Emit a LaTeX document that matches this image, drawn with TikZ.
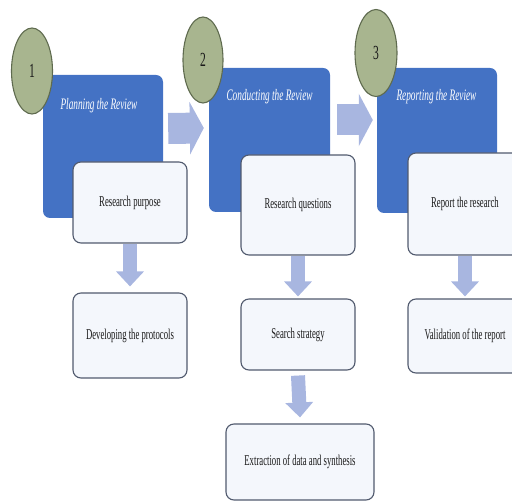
\documentclass[tikz,border=0pt]{standalone}
\usepackage{fontspec}
\setmainfont{Liberation Serif}[FakeStretch=0.58]
\usetikzlibrary{arrows.meta,shapes.geometric}
\definecolor{phaseblue}{HTML}{4472C4}
\definecolor{stepfill}{HTML}{F4F7FC}
\definecolor{stepline}{HTML}{515A6E}
\definecolor{badgefill}{HTML}{A8B58F}
\definecolor{badgeline}{HTML}{5F6B4F}
\definecolor{flowblue}{HTML}{A8B6E0}
\begin{document}
\begin{tikzpicture}[x=1pt,y=-1pt, every node/.style={font=\fontsize{15}{17}\selectfont,text=black!90},
  phase/.style={fill=phaseblue,rounded corners=7pt,inner sep=0pt},
  stepbox/.style={draw=stepline,fill=stepfill,line width=1.1pt,rounded corners=8pt,minimum width=114pt,inner sep=0pt,align=center},
  badge/.style={ellipse,draw=badgeline,fill=badgefill,line width=1.1pt,inner sep=0pt,font=\fontsize{20}{22}\selectfont},
  ptitle/.style={anchor=west,text=white,font=\fontsize{16}{18}\selectfont\itshape},
  flowh/.style={flowblue,line width=31pt,-{Triangle[width=52pt,length=14pt]}},
  flowv/.style={flowblue,line width=14pt,-{Triangle[width=27pt,length=15pt]}}]
\useasboundingbox (0,0) rectangle (512,502);
\node[phase,minimum width=120pt,minimum height=143pt] (plan) at (103,146.5) {};
\node[phase,minimum width=121pt,minimum height=144pt] (conduct) at (269.5,140) {};
\node[phase,minimum width=120pt,minimum height=145pt] (report) at (437,140.5) {};
\node[ptitle] (plantitle) at (57,106) {Planning the Review};
\node[ptitle] (conducttitle) at (223,97) {Conducting the Review};
\node[ptitle] (reporttitle) at (393,97) {Reporting the Review};
\draw[flowh] ([shift={(5pt,18pt)}]plan.east) -- ([shift={(-5pt,12pt)}]conduct.west);
\draw[flowh] ([shift={(7pt,20pt)}]conduct.east) -- ([shift={(-4pt,20.5pt)}]report.west);
\node[stepbox,minimum height=81pt] (purpose) at (130,202.5) {Research purpose};
\node[stepbox,minimum height=100pt] (questions) at (298,205) {Research questions};
\node[stepbox,minimum height=102pt] (reportres) at (465,204) {Report the research};
\node[stepbox,minimum height=85pt] (protocols) at (130,335.5) {Developing the protocols};
\node[stepbox,minimum height=71pt] (strategy) at (298,334.5) {Search strategy};
\node[stepbox,minimum height=74pt] (validation) at (465,336) {Validation of the report};
\node[stepbox,minimum width=148pt,minimum height=76pt] (extraction) at (300,462) {Extraction of data and synthesis};
\draw[flowv] (purpose.south) -- ([yshift=6pt]protocols.north);
\draw[flowv] (questions.south) -- ([yshift=2pt]strategy.north);
\draw[flowv] ([yshift=-5pt]strategy.south) -- ([yshift=6pt]extraction.north);
\draw[flowv] (reportres.south) -- ([yshift=2pt]validation.north);
\node[badge,minimum width=41pt,minimum height=86pt] (b1) at (32,71) {1};
\node[badge,minimum width=40pt,minimum height=86pt] (b2) at (203,60) {2};
\node[badge,minimum width=42pt,minimum height=87pt] (b3) at (376,53) {3};
\end{tikzpicture}
\end{document}
